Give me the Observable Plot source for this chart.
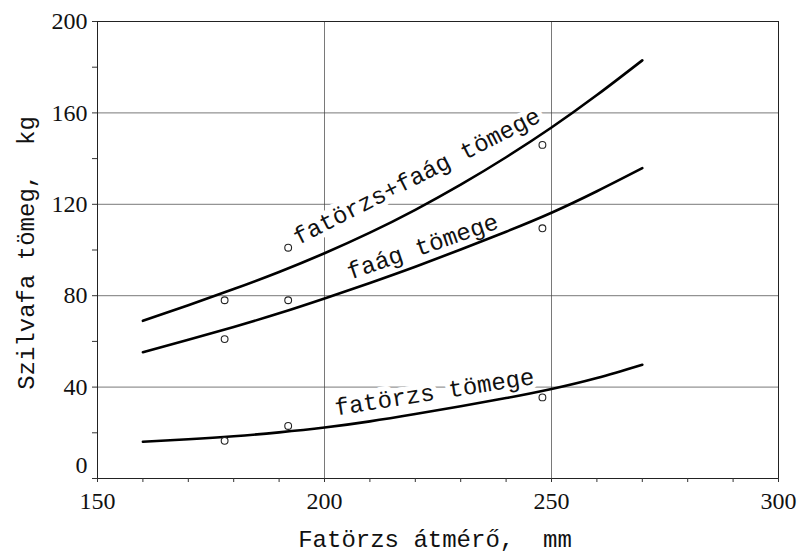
<!DOCTYPE html>
<html>
<head>
<meta charset="utf-8">
<script src="https://cdn.jsdelivr.net/npm/d3@7"></script>
<script src="https://cdn.jsdelivr.net/npm/@observablehq/plot@0.6"></script>
<style>
  html, body { margin: 0; padding: 0; background: #fff; }
  svg text { white-space: pre; }
</style>
</head>
<body>
<div id="chart"></div>
<script>
// Curve samples (fitted lines)
const curveX   = [160, 170, 180, 190, 200, 210, 220, 230, 240, 250, 260, 270];
const totalY   = [69, 75.8, 82.9, 90.4, 98.6, 107.6, 117.6, 128.6, 140.6, 153.6, 167.8, 183];
const branchY  = [55.3, 60.7, 66.3, 72.3, 78.8, 85.6, 92.7, 100.2, 108.0, 116.3, 125.7, 135.8];
const trunkY   = [16.1, 17.2, 18.5, 20.2, 22.3, 25.0, 28.2, 31.6, 35.2, 39.2, 44.0, 49.8];

// Measured points
const pointX = [178, 178, 178, 192, 192, 192, 248, 248, 248];
const pointY = [78, 61, 16.5, 101, 78, 23, 146, 109.5, 35.5];

// Curve labels
const labelText  = ["fatörzs+faág tömege", "faág tömege", "fatörzs tömege"];
const labelX     = [220.3, 221.6, 224.2];
const labelY     = [132.3, 101.5, 37.8];
const labelAngle = [-27, -19, -9];

// Axes
const xLabelTicks = [150, 200, 250, 300];
const xMinorTicks = [150, 160, 170, 180, 190, 200, 210, 220, 230, 240, 250, 260, 270, 280, 290, 300];
const yLabelTicks = [40, 80, 120, 160, 200];
const yZeroTick   = [0];
const yMinorTicks = [0, 20, 40, 60, 80, 100, 120, 140, 160, 180, 200];
const xGrid = [200, 250];
const yGrid = [40, 80, 120, 160];
const xTitle = "Fatörzs átmérő,  mm";
const yTitle = "Szilvafa tömeg,  kg";

const curves = [];
curveX.forEach((x, i) => {
  curves.push({series: "total", x, y: totalY[i]});
  curves.push({series: "branch", x, y: branchY[i]});
  curves.push({series: "trunk", x, y: trunkY[i]});
});
const points = pointX.map((x, i) => ({x, y: pointY[i]}));
const labels = labelText.map((t, i) => ({t, x: labelX[i], y: labelY[i], a: labelAngle[i]}));

const mono = "Liberation Mono";
const serif = "Liberation Serif";

const chart = Plot.plot({
  width: 805,
  height: 554,
  marginLeft: 97,
  marginRight: 27,
  marginTop: 21,
  marginBottom: 76,
  x: {domain: [150, 300]},
  y: {domain: [0, 200]},
  marks: [
    Plot.gridX(xGrid, {stroke: "#444", strokeOpacity: 0.8, strokeWidth: 0.9}),
    Plot.gridY(yGrid, {stroke: "#444", strokeOpacity: 0.8, strokeWidth: 0.9}),
    Plot.text(labels, {
      x: "x", y: "y", text: "t", rotate: "a",
      fontFamily: mono, fontSize: 24, fill: "#111",
      stroke: "white", strokeWidth: 10, paintOrder: "stroke",
      textAnchor: "middle", lineAnchor: "middle"
    }),
    Plot.line(curves, {x: "x", y: "y", z: "series", curve: "natural", stroke: "#000", strokeWidth: 2.6}),
    Plot.dot(points, {x: "x", y: "y", r: 3.4, stroke: "#222", strokeWidth: 1.1, fill: "white"}),
    Plot.frame({stroke: "#222", strokeWidth: 1}),
    Plot.axisX({ticks: xMinorTicks, tickSize: 4, tickFormat: () => "", label: null, stroke: "#333"}),
    Plot.axisY({ticks: yMinorTicks, tickSize: 5, tickFormat: () => "", label: null, stroke: "#333"}),
    // tick labels (serif), placed through the scales
    Plot.text(xLabelTicks, {x: d => d, frameAnchor: "bottom", lineAnchor: "top", dy: 13, text: d => String(d), fontFamily: serif, fontSize: 24, fill: "#111"}),
    Plot.text(yLabelTicks, {y: d => d, frameAnchor: "left", textAnchor: "end", lineAnchor: "middle", dx: -10, text: d => String(d), fontFamily: serif, fontSize: 24, fill: "#111"}),
    Plot.text(yZeroTick, {y: d => d, frameAnchor: "left", textAnchor: "end", lineAnchor: "middle", dx: -10, dy: -13, text: d => String(d), fontFamily: serif, fontSize: 24, fill: "#111"}),
    Plot.text([xTitle], {frameAnchor: "bottom", dy: 61, dx: -3, fontFamily: mono, fontSize: 24, fill: "#111", textAnchor: "middle", lineAnchor: "middle"}),
    Plot.text([yTitle], {frameAnchor: "left", dx: -71, dy: 3, rotate: -90, fontFamily: mono, fontSize: 24, fill: "#111", textAnchor: "middle", lineAnchor: "middle"})
  ]
});
document.getElementById("chart").appendChild(chart);
</script>
</body>
</html>
